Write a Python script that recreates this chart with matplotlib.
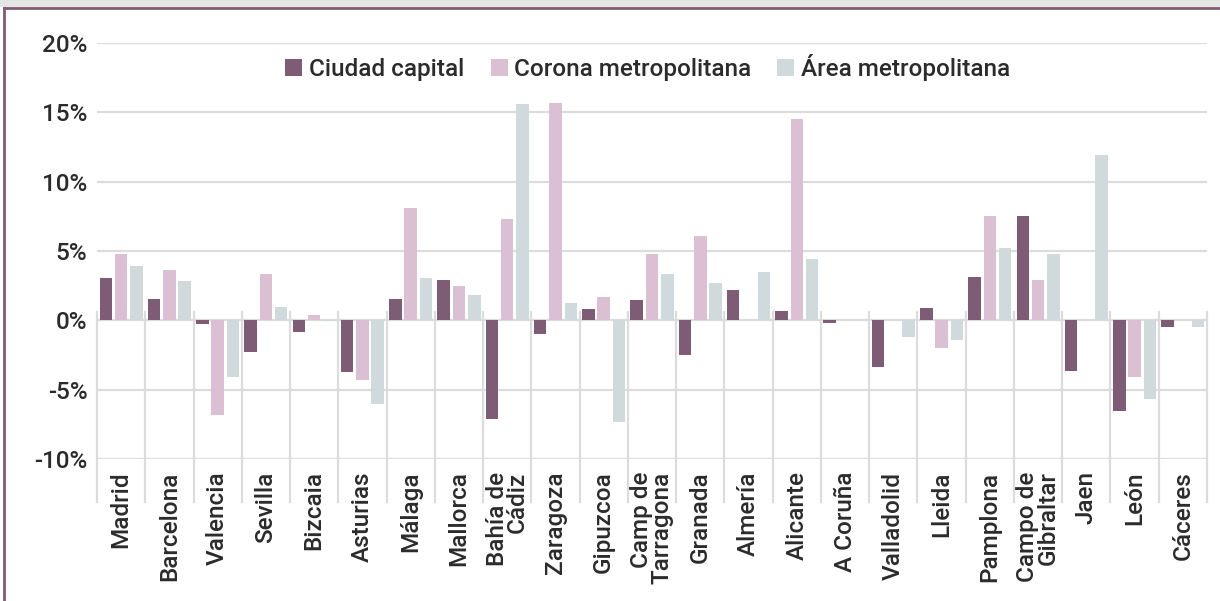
import matplotlib
matplotlib.use("Agg")
import matplotlib.pyplot as plt
import numpy as np
from matplotlib.patches import Rectangle
from matplotlib.lines import Line2D

plt.rcParams['font.family'] = ['Roboto', 'DejaVu Sans']
plt.rcParams['font.weight'] = 'medium'

categories = ['Madrid', 'Barcelona', 'Valencia', 'Sevilla', 'Bizcaia', 'Asturias',
              'Málaga', 'Mallorca', 'Bahía de\nCádiz', 'Zaragoza', 'Gipuzcoa',
              'Camp de\nTarragona', 'Granada', 'Almería', 'Alicante', 'A Coruña',
              'Valladolid', 'Lleida', 'Pamplona', 'Campo de\nGibraltar', 'Jaen',
              'León', 'Cáceres']

ciudad = [3.05, 1.55, -0.3, -2.25, -0.85, -3.7, 1.55, 2.9, -7.1, -0.95, 0.85,
          1.45, -2.5, 2.2, 0.7, -0.17, -3.4, 0.92, 3.15, 7.55, -3.65, -6.55, -0.5]
corona = [4.75, 3.6, -6.8, 3.35, 0.35, -4.3, 8.1, 2.5, 7.3, 15.65, 1.7,
          4.78, 6.05, 0.0, 14.5, 0.0, 0.0, -2.0, 7.55, 2.9, 0.0, -4.1, 0.0]
area = [3.95, 2.85, -4.1, 0.95, -0.05, -6.0, 3.05, 1.8, 15.6, 1.25, -7.3,
        3.35, 2.7, 3.45, 4.4, 0.0, -1.2, -1.4, 5.2, 4.78, 11.95, -5.65, -0.48]

series_names = ['Ciudad capital', 'Corona metropolitana', 'Área metropolitana']
colors = ['#7f5c75', '#dbbfd3', '#d0dadc']
txt = '#2b2b2b'
grid_c = '#dcdcdc'

fig = plt.figure(figsize=(12.2, 6.01), dpi=100)
W, H = 1220, 601

# frame decoration (top shadow band + purple border)
fig.patches.append(Rectangle((0, 1 - 7 / H), 1, 7 / H, transform=fig.transFigure,
                             facecolor='#e4e6e6', edgecolor='none', zorder=0))
fig.lines.append(Line2D([4 / W, 1], [1 - 8 / H, 1 - 8 / H], transform=fig.transFigure,
                        color='#7f5c75', lw=2))
fig.lines.append(Line2D([4 / W, 4 / W], [0, 1 - 8 / H], transform=fig.transFigure,
                        color='#7f5c75', lw=2))

ax = fig.add_axes([97 / W, 1 - 459 / H, 1110 / W, 416 / H])
x = np.arange(len(categories))
off = 0.317
bw = 0.26
ax.bar(x - off, ciudad, bw, color=colors[0], label=series_names[0], zorder=3)
ax.bar(x, corona, bw, color=colors[1], label=series_names[1], zorder=3)
ax.bar(x + off, area, bw, color=colors[2], label=series_names[2], zorder=3)

ax.set_xlim(-0.5, len(categories) - 0.5)
ax.set_ylim(-10, 20)
ax.set_yticks([-10, -5, 0, 5, 10, 15, 20])
ax.set_yticklabels(['-10%', '-5%', '0%', '5%', '10%', '15%', '20%'])
ax.yaxis.grid(True, color=grid_c, lw=1.6, zorder=1)
ax.set_axisbelow(True)
for s in ax.spines.values():
    s.set_visible(False)
ax.tick_params(axis='y', length=0, pad=7, labelsize=17.5, labelcolor=txt)

ax.set_xticks(x)
ax.set_xticklabels(categories, rotation=90, linespacing=0.85)
ax.tick_params(axis='x', length=0, pad=9, labelsize=17.5, labelcolor=txt)
for lab in ax.get_xticklabels():
    lab.set_multialignment('right')

# category separators
for b in np.arange(len(categories) + 1) - 0.5:
    ax.plot([b, b], [0.6, -13.1], color=grid_c, lw=1.6, clip_on=False, zorder=1)

ax.legend(loc='center', bbox_to_anchor=(0.496, 0.94), ncol=3, frameon=False,
          fontsize=17.5, handlelength=0.7, handleheight=0.7, handletextpad=0.25,
          columnspacing=1.1, labelcolor=txt)

fig.savefig('out.png', dpi=100)
